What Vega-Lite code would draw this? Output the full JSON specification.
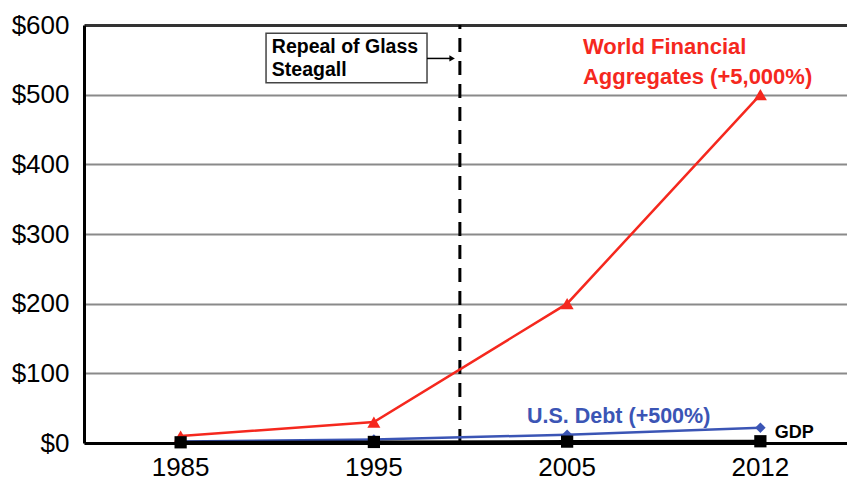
{
  "$schema": "https://vega.github.io/schema/vega-lite/v6.json",
  "width": 763,
  "height": 418,
  "autosize": {"type": "none"},
  "padding": {"left": 84, "top": 25, "right": 0, "bottom": 37},
  "background": "white",
  "config": {"view": {"stroke": null}, "font": "Liberation Sans"},
  "datasets": {
    "series": [
      {"year": "1985", "series": "World Financial Aggregates", "value": 10},
      {"year": "1995", "series": "World Financial Aggregates", "value": 30},
      {"year": "2005", "series": "World Financial Aggregates", "value": 200},
      {"year": "2012", "series": "World Financial Aggregates", "value": 500},
      {"year": "1985", "series": "U.S. Debt", "value": 2},
      {"year": "1995", "series": "U.S. Debt", "value": 5},
      {"year": "2005", "series": "U.S. Debt", "value": 12},
      {"year": "2012", "series": "U.S. Debt", "value": 22},
      {"year": "1985", "series": "GDP", "value": 1},
      {"year": "1995", "series": "GDP", "value": 1.5},
      {"year": "2005", "series": "GDP", "value": 2},
      {"year": "2012", "series": "GDP", "value": 2.5}
    ],
    "one": [{}]
  },
  "layer": [
    {
      "data": {"name": "one"},
      "mark": {"type": "rule", "color": "black", "strokeWidth": 3, "strokeDash": [14, 9]},
      "encoding": {
        "x": {"datum": "1995", "type": "nominal", "bandPosition": 0.945},
        "y": {"datum": 0, "type": "quantitative"},
        "y2": {"datum": 600}
      }
    },
    {
      "data": {"name": "series"},
      "transform": [{"filter": "datum.series === 'World Financial Aggregates'"}],
      "layer": [
        {"mark": {"type": "line", "color": "#f5281e", "strokeWidth": 2.5}},
        {"mark": {"type": "point", "shape": "triangle-up", "filled": true, "color": "#f5281e", "size": 170, "opacity": 1}}
      ],
      "encoding": {
        "x": {"field": "year", "type": "ordinal"},
        "y": {"field": "value", "type": "quantitative"}
      }
    },
    {
      "data": {"name": "series"},
      "transform": [{"filter": "datum.series === 'U.S. Debt'"}],
      "layer": [
        {"mark": {"type": "line", "color": "#3b55b5", "strokeWidth": 2.5}},
        {"mark": {"type": "point", "shape": "diamond", "filled": true, "color": "#3b55b5", "size": 110, "opacity": 1}}
      ],
      "encoding": {
        "x": {"field": "year", "type": "ordinal"},
        "y": {"field": "value", "type": "quantitative"}
      }
    },
    {
      "data": {"name": "series"},
      "transform": [{"filter": "datum.series === 'GDP'"}],
      "layer": [
        {"mark": {"type": "line", "color": "black", "strokeWidth": 3}},
        {"mark": {"type": "point", "shape": "square", "filled": true, "color": "black", "size": 150, "opacity": 1}}
      ],
      "encoding": {
        "x": {"field": "year", "type": "ordinal"},
        "y": {"field": "value", "type": "quantitative"}
      }
    },
    {
      "data": {"name": "one"},
      "mark": {"type": "rect", "fill": "white", "stroke": "#444", "strokeWidth": 1.5},
      "encoding": {
        "x": {"datum": "1985", "type": "nominal", "bandPosition": 0.942},
        "x2": {"datum": "1995", "bandPosition": 0.775},
        "y": {"datum": 588, "type": "quantitative"},
        "y2": {"datum": 517}
      }
    },
    {
      "data": {"name": "one"},
      "mark": {"type": "text", "align": "left", "baseline": "middle", "fontWeight": "bold", "fontSize": 19.5, "color": "black", "lineHeight": 23},
      "encoding": {
        "x": {"datum": "1985", "type": "nominal", "bandPosition": 0.972},
        "y": {"datum": 568, "type": "quantitative"},
        "text": {"value": ["Repeal of Glass", "Steagall"]}
      }
    },
    {
      "data": {"name": "one"},
      "mark": {"type": "rule", "color": "black", "strokeWidth": 1.5},
      "encoding": {
        "x": {"datum": "1995", "type": "nominal", "bandPosition": 0.775},
        "x2": {"datum": "1995", "bandPosition": 0.9},
        "y": {"datum": 552, "type": "quantitative"}
      }
    },
    {
      "data": {"name": "one"},
      "mark": {"type": "point", "shape": "triangle-right", "filled": true, "color": "black", "size": 40, "opacity": 1},
      "encoding": {
        "x": {"datum": "1995", "type": "nominal", "bandPosition": 0.905},
        "y": {"datum": 552, "type": "quantitative"}
      }
    },
    {
      "data": {"name": "one"},
      "mark": {"type": "text", "align": "left", "baseline": "middle", "fontWeight": "bold", "fontSize": 22, "color": "#f5281e", "lineHeight": 30},
      "encoding": {
        "x": {"datum": "2005", "type": "nominal", "bandPosition": 0.582},
        "y": {"datum": 568, "type": "quantitative"},
        "text": {"value": ["World Financial", "Aggregates (+5,000%)"]}
      }
    },
    {
      "data": {"name": "one"},
      "mark": {"type": "text", "align": "left", "baseline": "middle", "fontWeight": "bold", "fontSize": 21.5, "color": "#3b55b5"},
      "encoding": {
        "x": {"datum": "2005", "type": "nominal", "bandPosition": 0.292},
        "y": {"datum": 37, "type": "quantitative"},
        "text": {"value": "U.S. Debt (+500%)"}
      }
    },
    {
      "data": {"name": "one"},
      "mark": {"type": "text", "align": "left", "baseline": "middle", "fontWeight": "bold", "fontSize": 18, "color": "black"},
      "encoding": {
        "x": {"datum": "2012", "type": "nominal", "bandPosition": 0.575},
        "y": {"datum": 14, "type": "quantitative"},
        "text": {"value": "GDP"}
      }
    }
  ],
  "resolve": {"scale": {"x": "shared", "y": "shared"}},
  "encoding": {
    "x": {
      "type": "ordinal",
      "scale": {"type": "band", "domain": ["1985", "1995", "2005", "2012"], "range": [0, 773], "paddingInner": 0, "paddingOuter": 0},
      "axis": {
        "title": null,
        "ticks": false,
        "grid": false,
        "labelAngle": 0,
        "labelFontSize": 26,
        "labelColor": "black",
        "labelPadding": 11,
        "domainColor": "black",
        "domainWidth": 3
      }
    },
    "y": {
      "type": "quantitative",
      "scale": {"domain": [0, 600], "nice": false, "zero": true},
      "axis": {
        "title": null,
        "values": [0, 100, 200, 300, 400, 500, 600],
        "labelExpr": "'$' + datum.value",
        "ticks": false,
        "labelFontSize": 26,
        "labelColor": "black",
        "labelPadding": 15,
        "domainColor": "black",
        "domainWidth": 3,
        "grid": true,
        "gridColor": {"condition": {"test": "datum.value === 600", "value": "#333"}, "value": "#8a8a8a"},
        "gridWidth": {"condition": {"test": "datum.value === 600", "value": 3}, "value": 2},
        "gridOpacity": 1
      }
    }
  }
}
